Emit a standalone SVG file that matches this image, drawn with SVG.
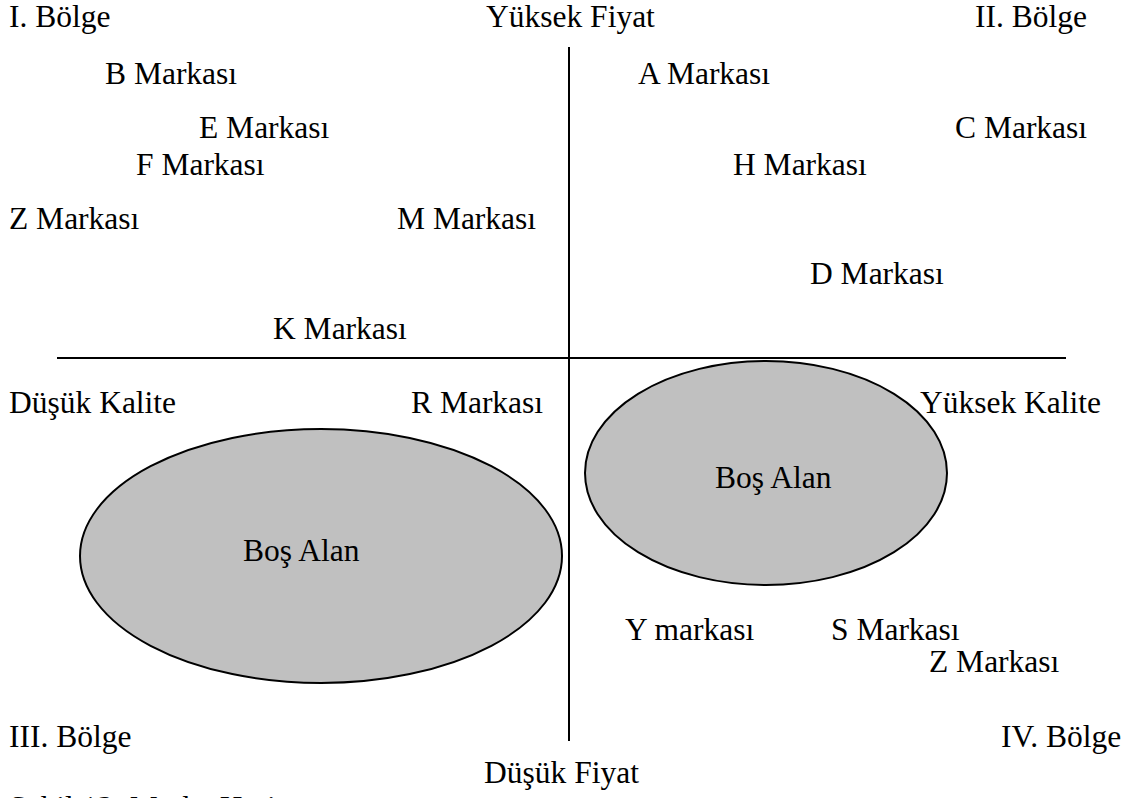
<svg xmlns="http://www.w3.org/2000/svg" width="1124" height="798" viewBox="0 0 1124 798">
<style>
text{font-family:"Liberation Serif","Times New Roman",serif;font-size:31.5px;fill:#000}
.ax{stroke:#000;stroke-width:2;fill:none}
.blob{fill:#c0c0c0;stroke:#000;stroke-width:2}
</style>
<rect width="1124" height="798" fill="#fff"/>
<g id="axes">
<line class="ax" x1="569" y1="47" x2="569" y2="741"/>
<line class="ax" x1="57" y1="358" x2="1066" y2="358"/>
</g>
<g id="area-left"><ellipse class="blob" cx="321" cy="556" rx="241" ry="127"/><text x="243" y="561">Boş Alan</text></g>
<g id="area-right"><ellipse class="blob" cx="766" cy="473" rx="181" ry="112"/><text x="715" y="488">Boş Alan</text></g>
<g id="labels">
<text x="9" y="27">I. Bölge</text>
<text x="486" y="27">Yüksek Fiyat</text>
<text x="975" y="27">II. Bölge</text>
<text x="105" y="84">B Markası</text>
<text x="638" y="84">A Markası</text>
<text x="199" y="138">E Markası</text>
<text x="955" y="138">C Markası</text>
<text x="136" y="175">F Markası</text>
<text x="733" y="175">H Markası</text>
<text x="9" y="229">Z Markası</text>
<text x="397" y="229">M Markası</text>
<text x="810" y="284">D Markası</text>
<text x="273" y="339">K Markası</text>
<text x="9" y="413">Düşük Kalite</text>
<text x="411" y="413">R Markası</text>
<text x="920" y="413">Yüksek Kalite</text>
<text x="625" y="640">Y markası</text>
<text x="831" y="640">S Markası</text>
<text x="929" y="672">Z Markası</text>
<text x="9" y="747">III. Bölge</text>
<text x="1001" y="747">IV. Bölge</text>
<text x="484" y="783">Düşük Fiyat</text>
<text x="9" y="818">Şekil 13: Marka Haritası</text>
</g>
</svg>
